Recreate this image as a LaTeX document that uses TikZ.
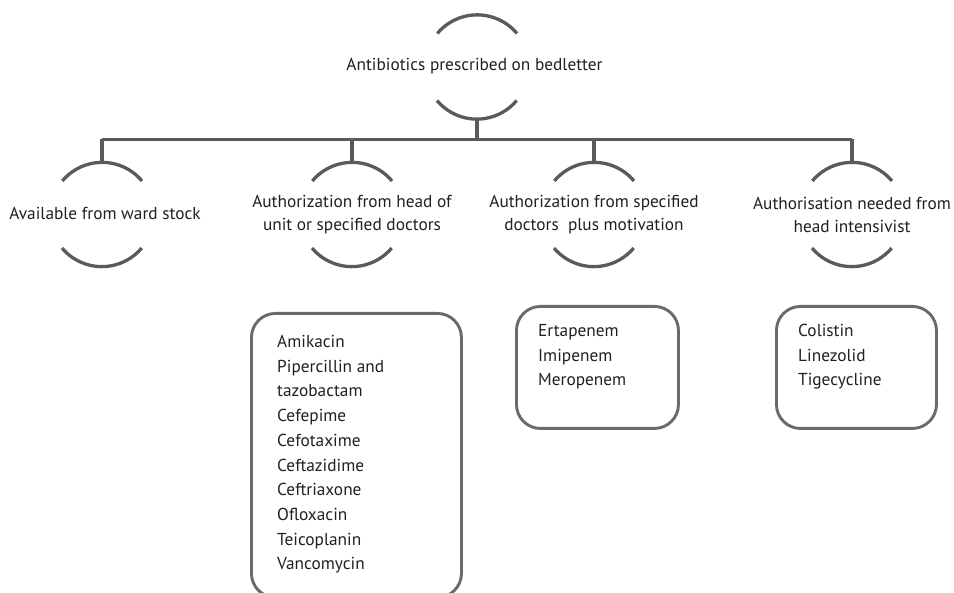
\documentclass[tikz,border=0pt]{standalone}
\usepackage{fontspec}
\setmainfont{PT Sans}
\definecolor{linegray}{HTML}{5A5A5C}
\definecolor{boxgray}{HTML}{6A6A6C}
\definecolor{txt}{HTML}{231F20}
\begin{document}
\begin{tikzpicture}[x=1pt,y=1pt,
  ring/.style={circle, minimum size=104pt, inner sep=0pt},
  arcline/.style={draw=linegray, line width=3.3pt},
  bus/.style={draw=linegray, line width=3.6pt},
  boxstyle/.style={draw=boxgray, line width=2.9pt, rounded corners=24pt, inner sep=0pt},
  lbl/.style={font=\fontsize{17.3}{23}\selectfont, align=center, inner sep=0pt, text=txt},
  list/.style={font=\fontsize{17.3}{24.7}\selectfont, align=left, inner sep=0pt, anchor=north west, text=txt}
]
\useasboundingbox (0,0) rectangle (954,-593);

% rings (invisible circles carrying the arcs)
\node[ring] (r0) at (477,-67) {};
\node[ring] (r1) at (102,-214.5) {};
\node[ring] (r2) at (352,-214.5) {};
\node[ring] (r3) at (594,-214.5) {};
\node[ring] (r4) at (852,-214.5) {};

\foreach \r in {r0,r1,r2,r3,r4}{
  \draw[arcline] (\r.40) arc (40:140:52);
  \draw[arcline] (\r.220) arc (220:320:52);
}

% labels
\node[lbl] (t0) at (474.5,-66) {Antibiotics prescribed on bedletter};
\node[lbl] (t1) at (105,-213.5) {Available from ward stock};
\node[lbl] (t2) at (352,-214.5) {Authorization from head of\\unit or specified doctors};
\node[lbl] (t3) at (594,-214.5) {Authorization from specified\\doctors\ \ plus motivation};
\node[lbl] (t4) at (852,-214.5) {Authorisation needed from\\head intensivist};

% bus
\coordinate (busL) at (102,-139.5);
\coordinate (busR) at (852,-139.5);
\draw[bus] (busL) -- (busR);
\draw[bus] (r0.south) -- (r0.south |- busL);
\foreach \r in {r1,r2,r3,r4}{
  \draw[bus] (\r.north |- busL) -- (\r.north);
}

% boxes
\node[boxstyle, minimum width=210pt, minimum height=284pt, anchor=north west] (b1) at (250,-312) {};
\node[boxstyle, minimum width=162pt, minimum height=122pt, anchor=north west] (b2) at (515,-305) {};
\node[boxstyle, minimum width=160pt, minimum height=122pt, anchor=north west] (b3) at (775,-305) {};

\node[list] (l1) at (277,-335) {Amikacin\\Pipercillin and\\tazobactam\\Cefepime\\Cefotaxime\\Ceftazidime\\Ceftriaxone\\Ofloxacin\\Teicoplanin\\Vancomycin};
\node[list] (l2) at (538,-324) {Ertapenem\\Imipenem\\Meropenem};
\node[list] (l3) at (798,-324) {Colistin\\Linezolid\\Tigecycline};
\end{tikzpicture}
\end{document}
